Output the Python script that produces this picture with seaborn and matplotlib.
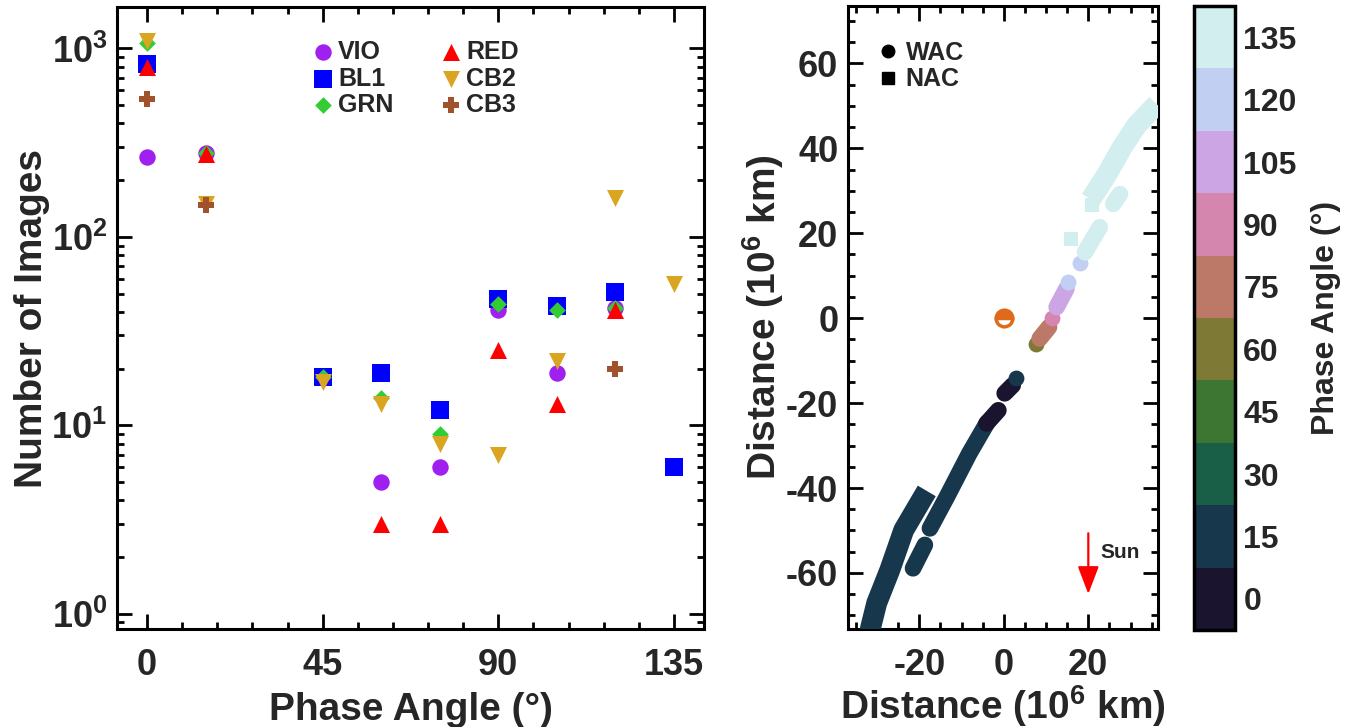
import numpy as np
import matplotlib
matplotlib.use('Agg')
import matplotlib.pyplot as plt
import seaborn as sns
from matplotlib.colors import ListedColormap, BoundaryNorm
from matplotlib.lines import Line2D
from matplotlib.ticker import MultipleLocator, LogLocator, NullFormatter, FixedLocator

# ---- left panel: number of images per filter vs phase angle ----
filters = ['VIO', 'BL1', 'GRN', 'RED', 'CB2', 'CB3']
phase_vio = [0, 15, 60, 75, 90, 105, 120]
count_vio = [265, 280, 5, 6, 41, 19, 42]
phase_bl1 = [0, 45, 60, 75, 90, 105, 120, 135]
count_bl1 = [830, 18, 19, 12, 47, 43, 51, 6]
phase_grn = [0, 15, 45, 60, 75, 90, 105, 120]
count_grn = [1070, 280, 18, 14, 9, 44, 41, 42]
phase_red = [0, 15, 60, 75, 90, 105, 120]
count_red = [800, 275, 3, 3, 25, 13, 41]
phase_cb2 = [0, 15, 45, 60, 75, 90, 105, 120, 135]
count_cb2 = [1100, 150, 17, 13, 8, 7, 22, 160, 56]
phase_cb3 = [0, 15, 120]
count_cb3 = [540, 147, 20]

# ---- right panel: trajectory segments (10^6 km) ----
seg_camera = ['NAC', 'WAC', 'WAC', 'WAC', 'WAC', 'WAC', 'WAC', 'WAC', 'WAC',
              'WAC', 'WAC', 'WAC', 'WAC', 'WAC', 'NAC', 'NAC', 'NAC']
seg_phase = [15, 15, 15, 0, 0, 15, 60, 75, 90, 105, 120, 120, 135, 135, 135, 135, 135]
seg_x = [[-32.2, -31.5, -30.1, -27.0, -23.7, -19.5],
         [-17.5, -13.5, -8.2, -4.0],
         [-21.5, -18.7],
         [-4.1, -1.3],
         [0.2, 2.1],
         [2.8],
         [7.7],
         [8.5, 10.7],
         [11.3],
         [12.5, 14.8],
         [15.2],
         [18.0],
         [19.2, 22.7],
         [25.9, 27.5],
         [16.0],
         [20.8],
         [21.9, 24.2, 28.0, 31.5, 34.5]]
seg_y = [[-76.0, -72.7, -67.1, -59.3, -49.9, -42.8],
         [-49.5, -42.1, -31.9, -24.7],
         [-58.9, -53.4],
         [-24.8, -21.7],
         [-17.7, -15.8],
         [-14.2],
         [-6.0],
         [-4.8, -2.1],
         [0.1],
         [2.6, 6.9],
         [8.5],
         [12.9],
         [15.5, 21.4],
         [26.9, 29.2],
         [18.7],
         [26.6],
         [30.0, 33.5, 40.2, 45.5, 48.6]]
planet_x, planet_y = 0.0, 0.0
sun_x, sun_y0, sun_y1 = 20.0, -50.0, -65.6

phase_ticks = list(range(0, 136, 15))

sns.set_theme(style='ticks')
plt.rcParams['font.family'] = ['Liberation Sans', 'DejaVu Sans']
plt.rcParams['font.weight'] = 'bold'
plt.rcParams['axes.labelweight'] = 'bold'
plt.rcParams['mathtext.default'] = 'regular'
plt.rcParams['axes.unicode_minus'] = False
plt.rcParams['axes.linewidth'] = 2.2
plt.rcParams['axes.edgecolor'] = 'black'

W, H = 1346, 727
fig = plt.figure(figsize=(W / 100, H / 100), dpi=100)

ax1 = fig.add_axes([117 / W, 1 - 629 / H, 587 / W, 622 / H])
ax2 = fig.add_axes([848 / W, 1 - 629 / H, 310 / W, 623 / H])
cax = fig.add_axes([1194 / W, 1 - 630 / H, 41 / W, 624 / H])

styles = {
    'VIO': ('o', '#A020F0', 140),
    'BL1': ('s', '#0000FF', 160),
    'GRN': ('D', '#32CD32', 72),
    'RED': ('^', '#FF0000', 150),
    'CB2': ('v', '#DAA520', 150),
    'CB3': ('P', '#A0522D', 140),
}
series = {
    'VIO': (phase_vio, count_vio),
    'BL1': (phase_bl1, count_bl1),
    'GRN': (phase_grn, count_grn),
    'RED': (phase_red, count_red),
    'CB2': (phase_cb2, count_cb2),
    'CB3': (phase_cb3, count_cb3),
}
for name in filters:
    mk, col, sz = styles[name]
    ph, cnt = series[name]
    sns.scatterplot(x=ph, y=cnt, ax=ax1, marker=mk, s=sz, color=col,
                    linewidth=0, label=name, zorder=3)

ax1.set_yscale('log')
ax1.set_xlim(-7.7, 142.7)
ax1.set_ylim(0.83, 1660)
ax1.xaxis.set_major_locator(FixedLocator([0, 45, 90, 135]))
ax1.xaxis.set_minor_locator(MultipleLocator(9))
ax1.yaxis.set_major_locator(LogLocator(base=10, numticks=10))
ax1.yaxis.set_minor_locator(LogLocator(base=10, subs=np.arange(2, 10), numticks=10))
ax1.yaxis.set_minor_formatter(NullFormatter())
ax1.set_xlabel('Phase Angle (°)', fontsize=28, labelpad=6)
ax1.set_ylabel('Number of Images', fontsize=28, labelpad=1)
ax1.legend(loc='upper left', bbox_to_anchor=(0.313, 0.963), ncol=2, frameon=False,
           fontsize=18, handletextpad=0.1, columnspacing=1.8, labelspacing=0.1,
           handlelength=1.0, borderaxespad=0)

# ---- right panel ----
phase_colors = sns.cubehelix_palette(n_colors=10, start=0.5, rot=-1.5, gamma=1.0,
                                     hue=1.0, light=0.9, dark=0.1, reverse=True)
for cam, ph, xs, ys in zip(seg_camera, seg_phase, seg_x, seg_y):
    col = phase_colors[ph // 15]
    if len(xs) == 1:
        if cam == 'WAC':
            ax2.scatter(xs, ys, marker='o', s=130, color=col, linewidth=0, zorder=3)
        else:
            ax2.scatter(xs, ys, marker='s', s=105, color=col, linewidth=0, zorder=3)
    else:
        cap = 'round' if cam == 'WAC' else 'projecting'
        lw = 12 if cam == 'WAC' else 15
        sns.lineplot(x=xs, y=ys, ax=ax2, sort=False, estimator=None, color=col,
                     lw=lw, solid_capstyle=cap, zorder=3)

ax2.plot(planet_x, planet_y, marker='o', ms=12, mfc='#E06A1C', mfcalt='white',
         fillstyle='top', mec='#E06A1C', mew=2.5, ls='none', zorder=4)
ax2.annotate('', xy=(sun_x, sun_y1), xytext=(sun_x, sun_y0),
             arrowprops=dict(arrowstyle='-|>,head_length=1.7,head_width=0.65',
                             color='red', lw=1.6, mutation_scale=10))
ax2.text(sun_x + 2.8, -55.3, 'Sun', fontsize=15, fontweight='bold', va='center')

ax2.set_xlim(-36.9, 36.5)
ax2.set_ylim(-73.2, 73.5)
ax2.xaxis.set_major_locator(MultipleLocator(20))
ax2.xaxis.set_minor_locator(MultipleLocator(5))
ax2.yaxis.set_major_locator(MultipleLocator(20))
ax2.yaxis.set_minor_locator(MultipleLocator(5))
ax2.set_xlabel('Distance (10$^6$ km)', fontsize=28, labelpad=0)
ax2.set_ylabel('Distance (10$^6$ km)', fontsize=28, labelpad=0)
handles = [Line2D([], [], marker='o', color='black', ls='none', ms=9),
           Line2D([], [], marker='s', color='black', ls='none', ms=9)]
ax2.legend(handles, ['WAC', 'NAC'], loc='upper left', bbox_to_anchor=(0.065, 0.96),
           frameon=False, fontsize=18, handletextpad=0.3, labelspacing=0.1,
           handlelength=0.8, borderaxespad=0)

for ax in (ax1, ax2):
    ax.tick_params(which='both', direction='in', top=True, right=True, width=2,
                   color='black')
    ax.tick_params(which='major', length=11)
    ax.tick_params(which='minor', length=5)
    ax.tick_params(axis='x', labelsize=26, pad=14)
    ax.tick_params(axis='y', labelsize=26, pad=7)
    for sp in ax.spines.values():
        sp.set_visible(True)
        sp.set_color('black')

# ---- colorbar ----
bounds = np.arange(-7.5, 150, 15)
cmap = ListedColormap(phase_colors)
norm = BoundaryNorm(bounds, cmap.N)
cb = fig.colorbar(plt.cm.ScalarMappable(norm=norm, cmap=cmap), cax=cax, ticks=phase_ticks)
cb.set_ticks(bounds[1:-1], minor=True)
cb.ax.tick_params(which='both', direction='in', length=10, width=2, labelsize=23,
                  color='black', right=True, pad=6)
cb.outline.set_linewidth(2.5)
cb.set_label('Phase Angle (°)', fontsize=23, fontweight='bold', labelpad=10)

fig.savefig('out.png', dpi=100)
